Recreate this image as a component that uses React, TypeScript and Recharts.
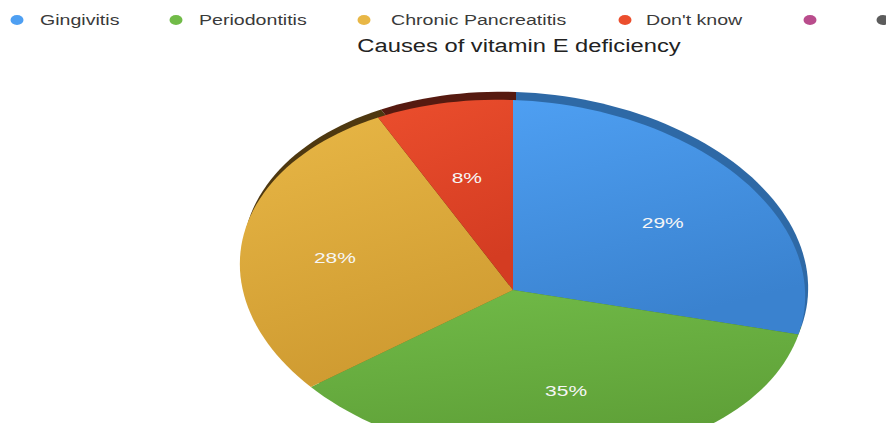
import { PieChart, Pie, Cell } from "recharts";

const causes = [
  "Gingivitis",
  "Periodontitis",
  "Chronic Pancreatitis",
  "Don't know",
  "",
  "",
];
const shares = [29, 35, 28, 8, 0, 0];

const faceTop = ["#4e9ff2", "#71bb48", "#e8b746", "#eb4e2d", "#b94c8c", "#5c5c5c"];
const faceBottom = ["#3a82cf", "#5e9f37", "#cf9b31", "#d43c22", "#a03f78", "#4a4a4a"];
const rimColors = ["#2e69a6", "#3e7827", "#4e3810", "#561a10", "#7a2f5a", "#333333"];

const legendDotX = [17, 176, 364, 625, 810, 883];
const legendTextX = [40, 199, 391, 646, 0, 0];

const data = causes.map((name, i) => ({ name, value: shares[i] }));

const STRETCH = 1.4;
const RAD = Math.PI / 180;
const FONT = "Liberation Sans, Arial, sans-serif";

// perspective-ish affine map of the unit circle, relative to the pie vertex
function ellipsePoint(cx: number, cy: number, r: number, deg: number) {
  const k = r / 282.5;
  const a = deg * RAD;
  const u = Math.cos(a);
  const v = -Math.sin(a);
  const x = cx + 9.5 + k * (282.5 * u + 9.5 * v);
  const y = cy - 10 + k * (10 * u + 180 * v);
  return [x, y];
}

function sectorPath(cx: number, cy: number, r: number, start: number, end: number) {
  const steps = Math.max(2, Math.ceil(Math.abs(start - end) / 2));
  let d = `M${cx},${cy}`;
  for (let i = 0; i <= steps; i++) {
    const ang = start + ((end - start) * i) / steps;
    const [x, y] = ellipsePoint(cx, cy, r, ang);
    d += ` L${x.toFixed(2)},${y.toFixed(2)}`;
  }
  return d + " Z";
}

function FaceSector(props: any) {
  const { cx, cy, outerRadius, startAngle, endAngle, index, value } = props;
  if (!value) return <g />;
  const id = `face-grad-${index}`;
  return (
    <g>
      <defs>
        <linearGradient id={id} x1="0" y1="0" x2="0.3" y2="1">
          <stop offset="0%" stopColor={faceTop[index]} />
          <stop offset="100%" stopColor={faceBottom[index]} />
        </linearGradient>
      </defs>
      <path d={sectorPath(cx, cy, outerRadius, startAngle, endAngle)} fill={`url(#${id})`} />
    </g>
  );
}

function RimSector(props: any) {
  const { cx, cy, outerRadius, startAngle, endAngle, fill, value } = props;
  if (!value) return <g />;
  return <path d={sectorPath(cx, cy, outerRadius, startAngle, endAngle)} fill={fill} />;
}

function renderLabel(props: any) {
  const { cx, cy, outerRadius, midAngle, value } = props;
  if (!value) return null;
  const [ax, ay] = ellipsePoint(cx, cy, outerRadius, midAngle);
  const x = cx + (ax - cx) * 0.66;
  const y = cy + (ay - cy) * 0.6;
  return (
    <text
      transform={`translate(${x},${y + 5}) scale(${STRETCH},1)`}
      textAnchor="middle"
      fontSize={15}
      fontFamily={FONT}
      fill="#f6f6f6"
    >
      {`${value}%`}
    </text>
  );
}

function LegendAndTitle() {
  return (
    <svg width={886} height={60} style={{ position: "absolute", left: 0, top: 0 }}>
      {causes.map((name, i) => (
        <g key={`leg-${i}`}>
          <ellipse cx={legendDotX[i]} cy={20} rx={6.5} ry={5} fill={faceTop[i]} />
          {name ? (
            <text
              transform={`translate(${legendTextX[i]},25) scale(${STRETCH},1)`}
              fontSize={14}
              fontFamily={FONT}
              fill="#3a3a3a"
            >
              {name}
            </text>
          ) : null}
        </g>
      ))}
      <text
        transform={`translate(519,52) scale(1.32,1)`}
        textAnchor="middle"
        fontSize={18}
        fontFamily={FONT}
        fill="#222"
      >
        Causes of vitamin E deficiency
      </text>
    </svg>
  );
}

export default function App() {
  return (
    <div style={{ position: "absolute", left: 0, top: 0, width: 886, height: 423, background: "#fff", overflow: "hidden" }}>
      <PieChart width={886} height={423} margin={{ top: 0, right: 0, bottom: 0, left: 0 }}>
        <Pie
          data={data}
          dataKey="value"
          nameKey="name"
          cx={516}
          cy={282}
          outerRadius={282.5}
          startAngle={90}
          endAngle={-270}
          stroke="none"
          shape={RimSector}
          isAnimationActive={false}
        >
          {data.map((_, i) => (
            <Cell key={`rim-${i}`} fill={rimColors[i]} />
          ))}
        </Pie>
        <Pie
          data={data}
          dataKey="value"
          nameKey="name"
          cx={513}
          cy={290}
          outerRadius={282.5}
          startAngle={90}
          endAngle={-270}
          stroke="none"
          shape={FaceSector}
          label={renderLabel}
          labelLine={false}
          isAnimationActive={false}
        >
          {data.map((_, i) => (
            <Cell key={`face-${i}`} fill={faceTop[i]} />
          ))}
        </Pie>
      </PieChart>
      <LegendAndTitle />
    </div>
  );
}
